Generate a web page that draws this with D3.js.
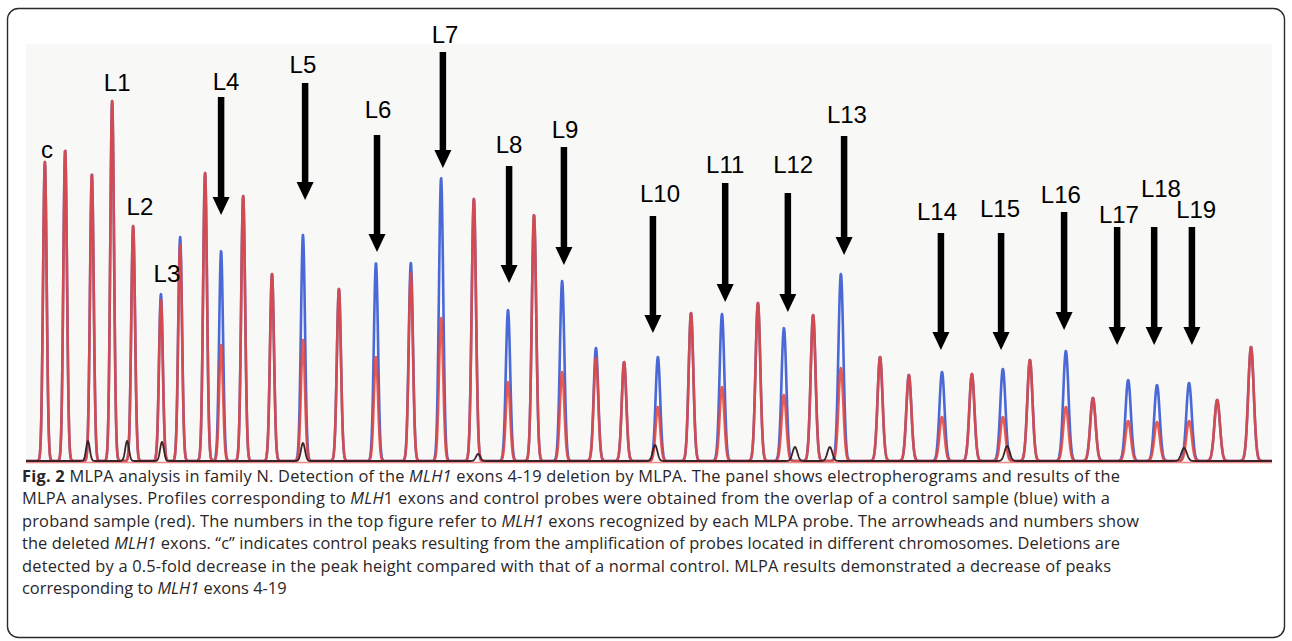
<!DOCTYPE html>
<html>
<head>
<meta charset="utf-8">
<script src="https://cdn.jsdelivr.net/npm/d3@7"></script>
<style>
  html, body { margin: 0; padding: 0; background: #ffffff; }
  svg { display: block; }
</style>
</head>
<body>
<svg id="chart" width="1292" height="641"></svg>
<script>
// ---------------- DATA ----------------
// Probe fragment sizes (nt) of the 42 MLPA peaks
const probeSizes = [135.3,141.0,148.5,154.2,160.1,167.9,173.3,180.3,184.8,191.0,199.1,207.8,217.9,228.3,238.1,246.6,255.8,265.4,272.7,280.6,290.1,298.0,307.5,316.8,325.5,335.6,342.9,351.1,358.9,369.9,378.0,387.3,395.7,404.4,412.0,422.1,429.7,439.6,447.7,456.7,464.6,474.1];
// Peak heights (RFU), control sample (blue)
const controlRFU = [2990,3110,2870,3600,2350,1670,2240,2880,2100,2650,1870,2260,1720,1980,1980,2830,2620,1510,2460,1800,1130,990,1040,1480,1470,1580,1330,1460,1870,1040,860,890,870,920,1010,1100,630,810,760,780,610,1140];
// Peak heights (RFU), proband sample (red)
const probandRFU = [2990,3110,2870,3600,2350,1610,2160,2880,1160,2650,1870,1210,1720,1040,1880,1430,2620,790,2460,890,1030,990,540,1480,740,1580,660,1460,930,1040,860,440,870,440,1010,540,630,400,390,400,610,1140];
// Small dark (size-standard) trace peaks
const stdSizes = [147.4,158.4,168.2,207.8,257.0,306.7,346.0,355.8,405.6,455.3];
const stdRFU   = [200,200,190,180,70,160,140,140,150,130];

// Peak labels
const labelNames = ["c","L1","L2","L3","L4","L5","L6","L7","L8","L9","L10","L11","L12","L13","L14","L15","L16","L17","L18","L19"];
const labelSize  = [135.9,155.6,162.0,169.6,186.2,207.8,228.9,247.7,265.7,281.4,308.1,326.4,345.5,360.6,385.9,403.6,420.7,437.0,448.8,458.7];
const labelRFU   = [3030,3700,2460,1790,3710,3880,3430,4180,3080,3230,2590,2880,2880,3380,2410,2440,2580,2380,2640,2430];
// Deletion arrows (L4..L19)
const arrowSize  = [184.8,208.4,228.6,247.1,265.7,281.1,306.1,326.4,344.0,359.8,387.0,403.9,421.6,436.5,446.9,457.5];
const arrowTail  = [3640,3780,3260,4090,2950,3140,2450,2780,2680,3250,2280,2280,2490,2340,2340,2340];
const arrowTip   = [2460,2610,2090,2930,1780,1960,1280,1590,1490,2060,1110,1110,1310,1160,1160,1160];

// Caption
const captionLines = [
  [["b","Fig. 2"],["n"," MLPA analysis in family N. Detection of the "],["i","MLH1"],["n"," exons 4-19 deletion by MLPA. The panel shows electropherograms and results of the"]],
  [["n","MLPA analyses. Profiles corresponding to "],["i","MLH"],["n","1 exons and control probes were obtained from the overlap of a control sample (blue) with a"]],
  [["n","proband sample (red). The numbers in the top figure refer to "],["i","MLH1"],["n"," exons recognized by each MLPA probe. The arrowheads and numbers show"]],
  [["n","the deleted "],["i","MLH1"],["n"," exons. \u201cc\u201d indicates control peaks resulting from the amplification of probes located in different chromosomes. Deletions are"]],
  [["n","detected by a 0.5-fold decrease in the peak height compared with that of a normal control. MLPA results demonstrated a decrease of peaks"]],
  [["n","corresponding to "],["i","MLH1"],["n"," exons 4-19"]]
];
const captionWidths = [1098,1088,1117,1098,1089,null];

// ---------------- DRAW ----------------
const svg = d3.select("#chart");
const plot = {left: 26, right: 1272, top: 44, bottom: 461};

// frame
svg.append("rect").attr("x", 7.5).attr("y", 8.5).attr("width", 1277).attr("height", 629)
  .attr("rx", 11).attr("fill", "#fff").attr("stroke", "#2b2b2b").attr("stroke-width", 1.4);

// panel background
svg.append("rect").attr("x", plot.left).attr("y", plot.top)
  .attr("width", plot.right - plot.left).attr("height", plot.bottom - plot.top + 3)
  .attr("fill", "#f8f8f6");

const x = d3.scaleLinear().domain([130, 480]).range([plot.left, plot.right]);
const y = d3.scaleLinear().domain([0, 4170]).range([plot.bottom, plot.top]);

const samples = d3.range(plot.left, plot.right + 0.01, 0.3).map(px => x.invert(px));
function sigmaPx(px) { return 1.8 + 1.0 * (px - plot.left) / (plot.right - plot.left); }
function trace(sizes, heights) {
  return samples.map(s => {
    const px = x(s);
    let v = 0;
    for (let i = 0; i < sizes.length; i++) {
      const c = x(sizes[i]);
      const sg = sigmaPx(c);
      const d = (px - c) / sg;
      if (Math.abs(d) < 6) v += heights[i] * Math.exp(-0.5 * d * d);
    }
    return {s, v};
  });
}
const line = d3.line().x(d => x(d.s)).y(d => y(d.v));

const g = svg.append("g");
g.append("path").datum(trace(probeSizes, controlRFU)).attr("d", line)
  .attr("fill", "none").attr("stroke", "#4a68d6").attr("stroke-width", 2.6).attr("stroke-linejoin", "round");
g.append("path").datum(trace(probeSizes, probandRFU)).attr("d", line)
  .attr("fill", "none").attr("stroke", "#e4473f").attr("stroke-width", 2.6).attr("stroke-opacity", 0.88).attr("stroke-linejoin", "round");
// pink baseline
g.append("line").attr("x1", plot.left).attr("x2", plot.right).attr("y1", y(0) + 1.5).attr("y2", y(0) + 1.5)
  .attr("stroke", "#ee8c8c").attr("stroke-width", 1.5);
g.append("path").datum(trace(stdSizes, stdRFU)).attr("d", line)
  .attr("fill", "none").attr("stroke", "#3a2226").attr("stroke-width", 1.8);

// arrows
const shaftW = 6.5, headW = 17, headL = 18;
const arrows = svg.append("g");
arrowSize.forEach((s, i) => {
  const ax = x(s), yt = y(arrowTail[i]), yp = y(arrowTip[i]);
  arrows.append("rect").attr("x", ax - shaftW / 2).attr("y", yt)
    .attr("width", shaftW).attr("height", (yp - headL) - yt + 1).attr("fill", "#000");
  arrows.append("path")
    .attr("d", `M${ax - headW / 2},${yp - headL} L${ax + headW / 2},${yp - headL} L${ax},${yp} Z`)
    .attr("fill", "#000");
});

// labels
svg.append("g").selectAll("text").data(labelNames).join("text")
  .attr("x", (d, i) => x(labelSize[i])).attr("y", (d, i) => y(labelRFU[i]))
  .attr("text-anchor", "middle")
  .attr("font-family", "Liberation Sans, Arial, sans-serif")
  .attr("font-size", 24).attr("fill", "#000")
  .text(d => d);

// caption
const cap = svg.append("g");
const capTop = 482, capStep = 22.4;
captionLines.forEach((parts, li) => {
  const t = cap.append("text").attr("x", 22).attr("y", capTop + li * capStep)
    .attr("font-family", "Open Sans, Noto Sans, sans-serif").attr("font-size", 16.4)
    .attr("fill", "#2a2627");
  parts.forEach(([k, str]) => {
    const ts = t.append("tspan").text(str);
    if (k === "b") ts.attr("font-weight", "bold");
    if (k === "i") ts.attr("font-style", "italic");
  });
  const target = captionWidths[li];
  if (target) {
    const nat = t.node().getComputedTextLength();
    const n = parts.map(p => p[1]).join("").length;
    t.attr("letter-spacing", ((target - nat) / (n - 1)).toFixed(3));
  }
});
</script>
</body>
</html>
